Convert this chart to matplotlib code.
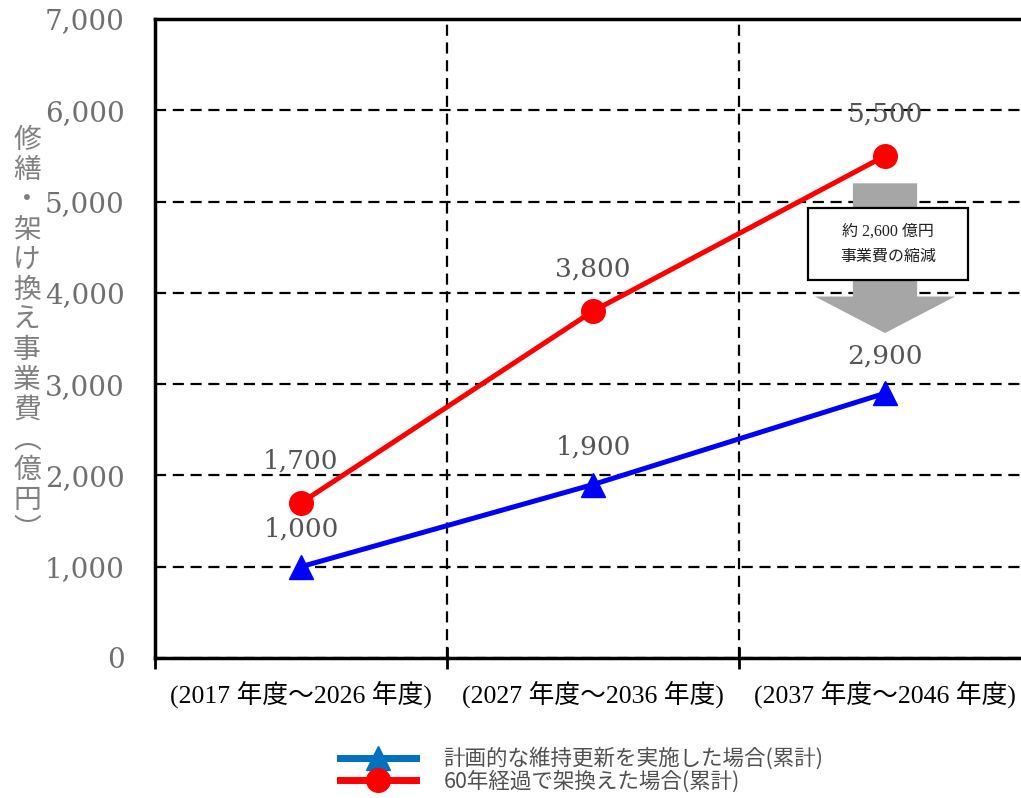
import matplotlib.pyplot as plt
from matplotlib.lines import Line2D
from matplotlib.patches import FancyArrow, Rectangle

# データ
periods = ['(2017 年度～2026 年度)', '(2027 年度～2036 年度)', '(2037 年度～2046 年度)']
planned = [1000, 1900, 2900]      # 計画的な維持更新を実施した場合（累計）
replace60 = [1700, 3800, 5500]    # 60年経過で架換えた場合（累計）
y_ticks = [0, 1000, 2000, 3000, 4000, 5000, 6000, 7000]
legend_labels = ['計画的な維持更新を実施した場合(累計)', '60年経過で架換えた場合(累計)']

serif = ['DejaVu Serif', 'Noto Sans CJK JP']
mincho = ['Liberation Serif', 'Noto Sans CJK JP']
gothic = ['Noto Sans CJK JP', 'DejaVu Sans']

fig = plt.figure(figsize=(10.21, 7.98), dpi=100)
ax = fig.add_axes([155 / 1021, 140 / 798, 876 / 1021, 639 / 798])

x = range(len(periods))
ax.plot(x, replace60, color='#ff0000', lw=3.6, marker='o', ms=17, zorder=5, clip_on=False)
ax.plot(x, planned, color='#0000ff', lw=3.6, marker='^', ms=17, zorder=5, clip_on=False)

# 数値ラベル
for i, v in enumerate(replace60):
    ax.annotate(f'{v:,}', (i, v), xytext=(0, 21), textcoords='offset points',
                ha='center', va='bottom', fontsize=19, family=serif, color='#555555')
for i, v in enumerate(planned):
    ax.annotate(f'{v:,}', (i, v), xytext=(0, 18), textcoords='offset points',
                ha='center', va='bottom', fontsize=19, family=serif, color='#555555')

ax.set_xlim(-0.5, len(periods) - 0.5)
ax.set_ylim(0, 7000)
ax.set_yticks(y_ticks)
ax.set_yticklabels([f'{t:,}' for t in y_ticks], family=serif, fontsize=20, color='#707070')
ax.tick_params(axis='y', length=0, pad=22)

ax.set_xticks([i + 0.5 for i in range(len(periods) - 1)] + [-0.5])
ax.set_xticklabels([])
ax.set_xticks(list(x), minor=True)
ax.set_xticklabels(periods, minor=True, family=mincho, fontsize=18.5, color='black')
ax.tick_params(axis='x', which='major', direction='inout', length=16, width=2)
ax.tick_params(axis='x', which='minor', length=0, pad=16)

ax.grid(True, axis='both', which='major', color='black', ls=(0, (5, 3)), lw=1.6)
for s in ['left', 'top', 'bottom']:
    ax.spines[s].set_linewidth(2.5)
ax.spines['right'].set_visible(False)

# 削減額の矢印
diff = replace60[-1] - planned[-1]
ax.add_patch(FancyArrow(2, 5200, 0, -1640, width=0.22, head_width=0.48, head_length=400,
                        length_includes_head=True, color='#a6a6a6', lw=0, zorder=3))
ax.add_patch(Rectangle((2 - 0.265, 4140), 0.55, 790, fc='white', ec='black', lw=1.6, zorder=4))
ax.text(2.01, 4535, f'約 {diff:,} 億円\n事業費の縮減', ha='center', va='center',
        fontsize=11.5, family=mincho, linespacing=1.8, zorder=5, color='#202020')

# 縦書きの軸ラベル
fig.text(27 / 1021, 1 - 335 / 798, '\n'.join('修繕・架け換え事業費') + '\n︵\n億\n円\n︶',
         ha='center', va='center', fontsize=20, family=gothic, color='#808080', linespacing=1.0)

handles = [
    Line2D([], [], color='#0070c0', lw=5, marker='^', ms=17),
    Line2D([], [], color='#ff0000', lw=5, marker='o', ms=17),
]
fig.legend(handles, legend_labels, loc='center', bbox_to_anchor=(582 / 1021, 1 - 770 / 798),
           frameon=False, prop={'family': gothic, 'size': 15.5}, labelcolor='#505050',
           handlelength=3.5, labelspacing=0.0, handletextpad=1.3)

fig.savefig('out.png', dpi=100)
